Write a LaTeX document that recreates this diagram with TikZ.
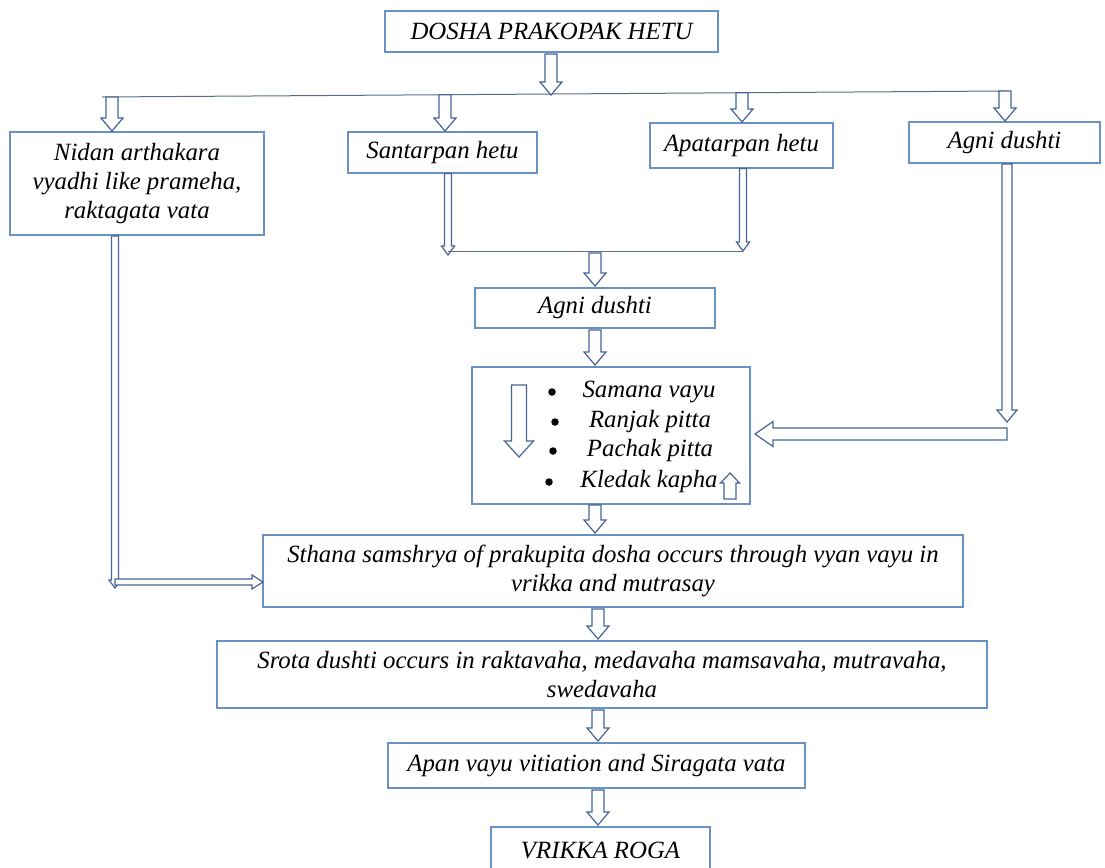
\documentclass[tikz,border=0pt]{standalone}
\usepackage{fontspec}
\setmainfont{Liberation Serif}
\usetikzlibrary{calc}
\definecolor{boxc}{RGB}{105,145,195}
\definecolor{arrc}{RGB}{70,100,150}
\definecolor{linec}{RGB}{90,110,140}
\tikzset{
  box/.style={draw=boxc, line width=1.6pt, inner sep=0pt, align=center,
    font=\fontsize{24.8}{29}\selectfont\itshape, text=black},
  txt/.style={inner sep=0pt, font=\fontsize{24.8}{29}\selectfont\itshape, text=black},
  dot/.style={circle, fill=black, inner sep=0pt, minimum size=7.5pt},
  barrow/.style={draw=arrc, line width=1.2pt, fill=white, line join=miter},
  thinline/.style={draw=linec, line width=1pt}
}
% block arrow: #1 start, #2 tip, #3 shaft half width, #4 head half width, #5 head length
\newcommand\blockarr[5]{%
  \coordinate (baH) at ($(#2)!#5!(#1)$);
  \draw[barrow] ($(#1)!#3!90:(#2)$) -- ($(baH)!#3!90:(#2)$) -- ($(baH)!#4!90:(#2)$)
    -- (#2) -- ($(baH)!#4!-90:(#2)$) -- ($(baH)!#3!-90:(#2)$) -- ($(#1)!#3!-90:(#2)$) -- cycle;
}
\begin{document}
\begin{tikzpicture}[x=1pt,y=-1pt]
\useasboundingbox (0,0) rectangle (1105,867);
\fill[white] (0,0) rectangle (1105,867);
\clip (0,0) rectangle (1105,867);

% boxes
\node[box, minimum width=333pt, minimum height=41pt] (top) at (551.5,31.5) {DOSHA PRAKOPAK HETU};
\node[box, minimum width=254pt, minimum height=103pt] (nidan) at (137,183.5) {Nidan arthakara\\vyadhi like prameha,\\raktagata vata};
\node[box, minimum width=189pt, minimum height=41pt] (sant) at (442.5,152.5) {Santarpan hetu};
\node[box, minimum width=183pt, minimum height=45pt] (apat) at (741.5,145.5) {Apatarpan hetu};
\node[box, minimum width=191pt, minimum height=41pt] (agniR) at (1004.5,142.5) {Agni dushti};
\node[box, minimum width=240pt, minimum height=40pt] (agniM) at (595,308) {Agni dushti};
\node[box, minimum width=278pt, minimum height=137pt] (bul) at (611,435.5) {};
\node[box, minimum width=700pt, minimum height=72pt] (sth) at (613,571) {Sthana samshrya of prakupita dosha occurs through vyan vayu in\\vrikka and mutrasay};
\node[box, minimum width=770pt, minimum height=67pt] (srota) at (602,674.5) {Srota dushti occurs in raktavaha, medavaha mamsavaha, mutravaha,\\swedavaha};
\node[box, minimum width=417pt, minimum height=45pt] (apan) at (596.5,765.5) {Apan vayu vitiation and Siragata vata};
\node[box, minimum width=219pt, minimum height=46pt] (vrik) at (600.5,850) {VRIKKA ROGA};

% bullet list
\node[dot] (b1) at (552,392) {};
\node[dot] (b2) at (555,422) {};
\node[dot] (b3) at (553,451) {};
\node[dot] (b4) at (549,482) {};
\node[txt] (t1) at (649,392) {Samana vayu};
\node[txt] (t2) at (650,422) {Ranjak pitta};
\node[txt] (t3) at (650,451) {Pachak pitta};
\node[txt] (t4) at (649,482) {Kledak kapha};

% distribution line
\coordinate (hl) at (102,97);
\coordinate (hr) at (1005,91);
\draw[thinline] (hl) -- (hr);

\coordinate (a0s) at (551,54);   \coordinate (a0e) at (551,95);
\blockarr{a0s}{a0e}{6pt}{11pt}{13pt}
\coordinate (a1s) at (112,96.9); \coordinate (a1e) at (112,131);
\blockarr{a1s}{a1e}{6pt}{11pt}{13pt}
\coordinate (a2s) at (445,94.7); \coordinate (a2e) at (445,131);
\blockarr{a2s}{a2e}{6pt}{11pt}{13pt}
\coordinate (a3s) at (742,92.7); \coordinate (a3e) at (742,122);
\blockarr{a3s}{a3e}{6pt}{11pt}{13pt}
\coordinate (a4s) at (1005,91);  \coordinate (a4e) at (1005,121);
\blockarr{a4s}{a4e}{6pt}{11pt}{13pt}

% santarpan / apatarpan join
\coordinate (d1s) at (448,173.5); \coordinate (d1e) at (448,255);
\blockarr{d1s}{d1e}{3.5pt}{6.5pt}{9pt}
\coordinate (d2s) at (743,168.5); \coordinate (d2e) at (743,251);
\blockarr{d2s}{d2e}{3.5pt}{6.5pt}{9pt}
\coordinate (jl) at (448,251.5); \coordinate (jr) at (743,251.5);
\draw[thinline] (jl) -- (jr);
\coordinate (m1s) at (595,253); \coordinate (m1e) at (595,286);
\blockarr{m1s}{m1e}{6pt}{11pt}{13pt}
\coordinate (m2s) at (595,330); \coordinate (m2e) at (595,365);
\blockarr{m2s}{m2e}{6pt}{11pt}{13pt}

% inside bullet box
\coordinate (i1s) at (519,385); \coordinate (i1e) at (519,457);
\blockarr{i1s}{i1e}{7.5pt}{14.5pt}{16pt}
\coordinate (i2s) at (730,499); \coordinate (i2e) at (730,473);
\blockarr{i2s}{i2e}{6pt}{9.5pt}{10pt}

% right branch
\coordinate (r1s) at (1007,164); \coordinate (r1e) at (1007,422);
\blockarr{r1s}{r1e}{5pt}{10pt}{12pt}
\coordinate (r2s) at (1007,434); \coordinate (r2e) at (755,434);
\blockarr{r2s}{r2e}{6pt}{12.5pt}{18pt}

% left branch
\coordinate (l1s) at (115,236); \coordinate (l1e) at (115,588);
\blockarr{l1s}{l1e}{3.5pt}{6pt}{8pt}
\coordinate (l2s) at (115,582); \coordinate (l2e) at (263,582);
\blockarr{l2s}{l2e}{3pt}{7pt}{11pt}

% lower chain
\coordinate (c1s) at (595,505); \coordinate (c1e) at (595,533);
\blockarr{c1s}{c1e}{6pt}{11pt}{13pt}
\coordinate (c2s) at (598,609); \coordinate (c2e) at (598,639);
\blockarr{c2s}{c2e}{6pt}{11pt}{13pt}
\coordinate (c3s) at (598,710); \coordinate (c3e) at (598,741);
\blockarr{c3s}{c3e}{6pt}{11pt}{13pt}
\coordinate (c4s) at (598,790); \coordinate (c4e) at (598,825);
\blockarr{c4s}{c4e}{6pt}{11pt}{13pt}
\end{tikzpicture}
\end{document}
